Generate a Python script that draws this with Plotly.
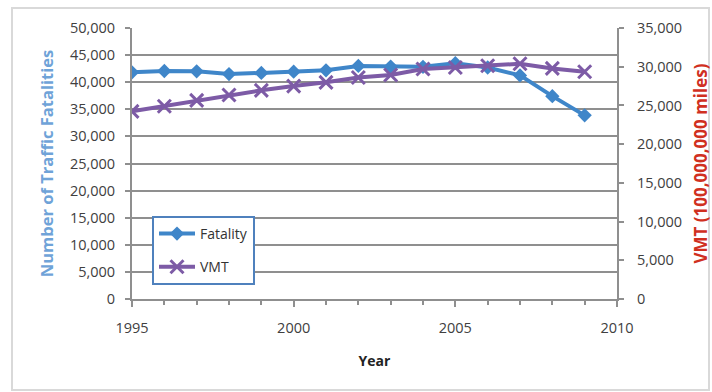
import plotly.graph_objects as go

# Annual U.S. traffic fatalities and vehicle miles travelled
years = [1995, 1996, 1997, 1998, 1999, 2000, 2001, 2002, 2003, 2004,
         2005, 2006, 2007, 2008, 2009]
fatality = [41817, 42065, 42013, 41501, 41717, 41945, 42196, 43005, 42884,
            42836, 43510, 42708, 41259, 37423, 33883]
vmt = [24230, 24900, 25650, 26350, 26950, 27500, 27980, 28600, 28930,
       29700, 29900, 30120, 30380, 29780, 29350]  # units of 100,000,000 miles

left_ticks = list(range(0, 50001, 5000))
right_ticks = list(range(0, 35001, 5000))
x_ticks = [1995, 2000, 2005, 2010]

FONT = "Open Sans"
TICK_COLOR = "#404040"
GRID = "#8f8f8f"
TICK_SIZE = 14.5

fig = go.Figure()
fig.add_trace(go.Scatter(
    x=years, y=fatality, name="Fatality", mode="lines+markers",
    line=dict(color="#3f86c9", width=4),
    marker=dict(symbol="diamond", size=11, color="#3f86c9"),
    legendgroup="a", yaxis="y",
))
fig.add_trace(go.Scatter(
    x=years, y=vmt, name="VMT", mode="lines+markers",
    line=dict(color="#7d5ba6", width=4),
    marker=dict(symbol="x-thin", size=13, color="#7d5ba6",
                line=dict(color="#7d5ba6", width=3)),
    legendgroup="b", yaxis="y2",
))

W, H = 712, 392
L, R, T, B = 132, 95, 28, 93
pw, ph = W - L - R, H - T - B

def px(x):
    return (x - L) / pw

def py(y):
    return (H - B - y) / ph

fig.update_layout(
    width=W, height=H,
    margin=dict(l=L, r=R, t=T, b=B, autoexpand=False),
    paper_bgcolor="white", plot_bgcolor="white",
    font=dict(family=FONT, size=13, color=TICK_COLOR),
    showlegend=True,
    legend=dict(
        x=px(152), y=py(216), xanchor="left", yanchor="top",
        bgcolor="white", bordercolor="#4f81bd", borderwidth=2,
        font=dict(family=FONT, size=14, color="#333333"),
        tracegroupgap=12, itemwidth=36,
    ),
    xaxis=dict(
        range=[1995, 2010], tickvals=x_ticks,
        ticktext=[str(v) for v in x_ticks],
        showgrid=False, zeroline=False, automargin=False,
        showline=True, linecolor=GRID, linewidth=2,
        ticks="outside", ticklen=6, tickwidth=2, tickcolor=GRID,
        minor=dict(dtick=1, ticks="outside", ticklen=4, tickwidth=1.5,
                   tickcolor=GRID, showgrid=False),
        ticklabelstandoff=9,
        tickfont=dict(size=TICK_SIZE, color=TICK_COLOR),
        title=dict(text="<b>Year</b>", font=dict(size=14, color="#222222"),
                   standoff=20),
    ),
    yaxis=dict(
        range=[0, 50000], tickvals=left_ticks,
        ticktext=[f"{v:,}" for v in left_ticks],
        showgrid=True, gridcolor=GRID, gridwidth=2, automargin=False,
        zeroline=False, showline=True, linecolor=GRID, linewidth=2,
        ticks="outside", ticklen=5, tickwidth=1.5, tickcolor=GRID,
        ticklabelstandoff=7,
        tickfont=dict(size=TICK_SIZE, color=TICK_COLOR),
        title=dict(text="<b>Number of Traffic Fatalities</b>",
                   font=dict(size=16.5, color="#6fa3d8"), standoff=12),
    ),
    yaxis2=dict(
        range=[0, 35000], tickvals=right_ticks,
        ticktext=[f"{v:,}" for v in right_ticks],
        overlaying="y", side="right", automargin=False,
        showgrid=False, zeroline=False,
        showline=True, linecolor=GRID, linewidth=2,
        ticks="outside", ticklen=5, tickwidth=1.5, tickcolor=GRID,
        ticklabelstandoff=10,
        tickfont=dict(size=TICK_SIZE, color=TICK_COLOR),
        title=dict(text="<b>VMT (100,000,000 miles)</b>",
                   font=dict(size=17, color="#d0301f"), standoff=14),
    ),
    shapes=[dict(
        type="rect", xref="paper", yref="paper", layer="below",
        x0=px(12), x1=px(709), y0=py(390), y1=py(8),
        line=dict(color="#d9d9d9", width=2), fillcolor="rgba(0,0,0,0)",
    )],
)

fig.write_html("out.html")
